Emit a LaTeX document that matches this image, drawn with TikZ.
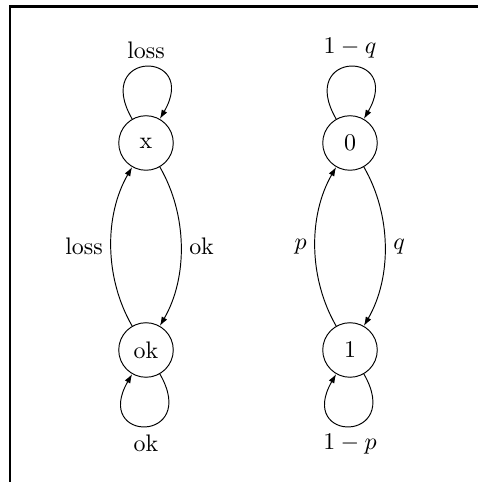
\documentclass[tikz,border=0pt]{standalone}
\usetikzlibrary{arrows.meta}
\begin{document}
\begin{tikzpicture}[x=0.418pt,y=0.418pt,
  state/.style={circle,draw,line width=0.4pt,minimum size=22.8pt,inner sep=0pt},
  arr/.style={-{Latex[length=3.8pt,width=2.6pt]},line width=0.4pt},
  frameline/.style={line width=1pt}]
\useasboundingbox (0,0) rectangle (477,482);
\draw[frameline] (9.7,-10) -- (9.7,475.3) -- (490,475.3);
\node[state] (x) at (146,339) {x};
\node[state] (ok) at (146,132) {ok};
\node[state] (z) at (350,339) {0};
\node[state] (one) at (350,132) {1};
% left chain
\draw[arr] (x.120) .. controls +(120:80) and +(60:80) .. node[above] {loss} (x.60);
\draw[arr] (ok.300) .. controls +(300:80) and +(240:80) .. node[below] {ok} (ok.240);
\draw[arr] (ok) to[bend left=30,looseness=0.9] node[left] {loss} (x);
\draw[arr] (x) to[bend left=30,looseness=0.9] node[right] {ok} (ok);
% right chain
\draw[arr] (z.120) .. controls +(120:80) and +(60:80) .. node[above] {$1-q$} (z.60);
\draw[arr] (one.300) .. controls +(300:80) and +(240:80) .. node[below] {$1-p$} (one.240);
\draw[arr] (one) to[bend left=30,looseness=0.9] node[left] {$p$} (z);
\draw[arr] (z) to[bend left=30,looseness=0.9] node[right] {$q$} (one);
\end{tikzpicture}
\end{document}
